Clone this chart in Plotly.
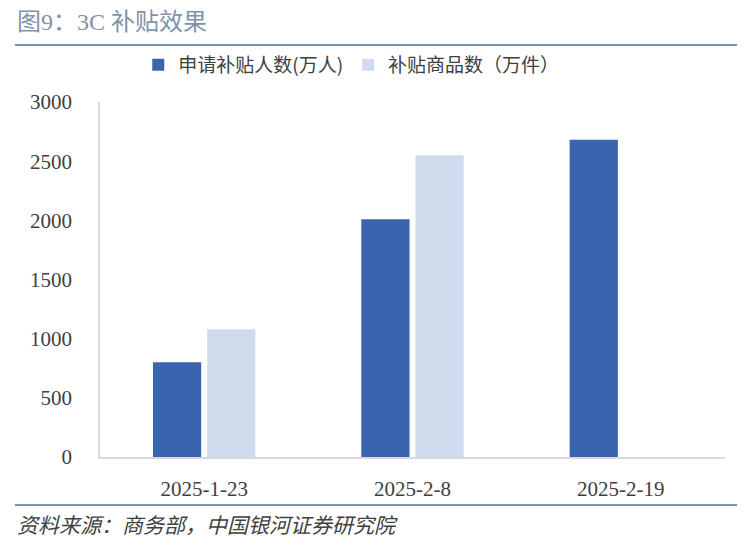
import plotly.graph_objects as go

# data
dates = ['2025-1-23', '2025-2-8', '2025-2-19']
applicants = [800, 2010, 2680]        # 申请补贴人数(万人)
goods = [1080, 2550, None]            # 补贴商品数（万件）
yticks = [0, 500, 1000, 1500, 2000, 2500, 3000]

FONT = 'Liberation Serif, Noto Sans CJK SC, serif'
DARK = '#3a64ad'
LIGHT = '#d0dcee'
RULE = '#7f93ab'

fig = go.Figure()
fig.add_trace(go.Bar(x=dates, y=applicants, name='申请补贴人数(万人)',
                     marker=dict(color=DARK, line=dict(width=0))))
fig.add_trace(go.Bar(x=dates, y=goods, name='补贴商品数（万件）',
                     marker=dict(color=LIGHT, line=dict(width=0))))

# the page body adds 8px, so margins are shifted to keep the plot area in place
fig.update_layout(
    width=750, height=548,
    margin=dict(l=92, r=33, t=94, b=99),
    paper_bgcolor='white', plot_bgcolor='white',
    barmode='group', bargap=0.48, bargroupgap=0.11,
    font=dict(family=FONT, size=21, color='#404040'),
    showlegend=True,
    legend=dict(orientation='h', x=0.402, xanchor='center',
                y=(457 - 65) / 355, yanchor='middle',
                font=dict(size=19, family='Noto Sans CJK SC, sans-serif'),
                traceorder='normal'),
    xaxis=dict(type='category', showline=True, linecolor='#d9d9d9',
               linewidth=1.5, ticks='outside', ticklen=12,
               tickcolor='rgba(0,0,0,0)', showgrid=False,
               tickfont=dict(size=21)),
    yaxis=dict(range=[0, 3000], tickvals=yticks, showline=True,
               linecolor='#d9d9d9', linewidth=1.5, showgrid=False,
               zeroline=False, ticks='outside', ticklen=22,
               tickcolor='rgba(0,0,0,0)', tickfont=dict(size=21)),
)

# title, rules and source note
fig.add_annotation(text='图9：3C 补贴效果', xref='paper', yref='paper',
                   x=-85 / 625, y=(457 - 22) / 355, xanchor='left',
                   yanchor='middle', showarrow=False,
                   font=dict(size=24, color=RULE, family=FONT))
fig.add_shape(type='line', xref='paper', yref='paper',
              x0=-85 / 625, x1=637 / 625, y0=(457 - 45) / 355,
              y1=(457 - 45) / 355,
              line=dict(color=RULE, width=2))
fig.add_shape(type='line', xref='paper', yref='paper',
              x0=-85 / 625, x1=637 / 625, y0=(457 - 505) / 355,
              y1=(457 - 505) / 355,
              line=dict(color=RULE, width=2))
fig.add_annotation(text='<i>资料来源：商务部，中国银河证券研究院</i>',
                   xref='paper', yref='paper', x=-85 / 625,
                   y=(457 - 526) / 355, xanchor='left', yanchor='middle',
                   showarrow=False,
                   font=dict(size=21, color='#404040', family=FONT))

fig.write_html('out.html')
